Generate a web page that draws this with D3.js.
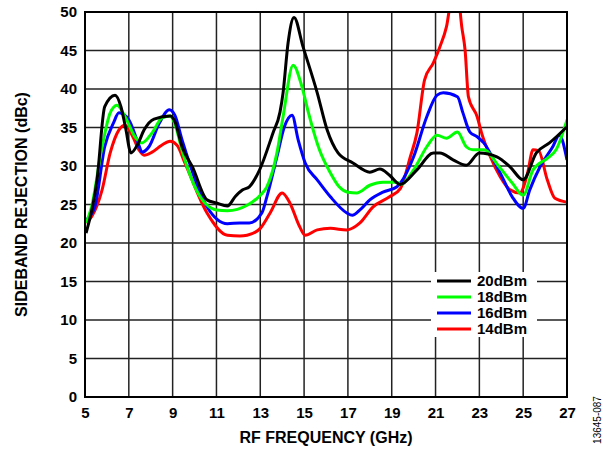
<!DOCTYPE html>
<html>
<head>
<meta charset="utf-8">
<script src="https://cdn.jsdelivr.net/npm/d3@7"></script>
<style>
  body { margin: 0; background: #fff; }
  text { font-family: "Liberation Sans", Arial, sans-serif; }
</style>
</head>
<body>
<div id="chart"></div>
<script>
// Sideband rejection vs RF frequency, one set per LO drive level
var freq20 = [5.05, 5.55, 5.9, 6.37, 6.64, 6.85, 7.1, 7.4, 7.7, 8.15, 8.9, 9.1, 9.43, 9.9, 10.57, 11.0, 11.5, 11.85, 12.2, 12.5, 12.97, 13.58, 13.9, 14.04, 14.27, 14.54, 14.95, 15.6, 16.05, 16.55, 17.23, 18.0, 18.46, 18.9, 19.38, 20.15, 20.9, 21.2, 21.8, 22.4, 23.0, 23.8, 24.4, 25.0, 25.6, 26.2, 27.0];
var rej20  = [21.3, 28.2, 37.7, 39.2, 37.7, 35.0, 31.7, 32.8, 34.7, 36.1, 36.5, 35.8, 32.5, 29.9, 25.6, 25.2, 24.8, 26.0, 26.9, 27.3, 29.5, 34.3, 37.0, 39.5, 46.0, 49.3, 45.5, 39.5, 34.7, 31.7, 30.4, 29.2, 29.6, 28.8, 27.6, 29.5, 31.7, 31.7, 30.8, 30.1, 31.7, 31.2, 29.9, 28.2, 31.7, 33.0, 35.1];

var freq18 = [5.05, 5.3, 5.78, 6.15, 6.46, 6.83, 7.28, 7.6, 8.06, 8.5, 8.88, 9.1, 9.43, 10.1, 11.0, 11.5, 12.4, 13.0, 13.3, 13.76, 14.04, 14.5, 14.9, 15.2, 15.7, 16.2, 16.6, 17.0, 17.4, 18.0, 18.6, 19.24, 19.4, 20.0, 20.6, 21.07, 21.5, 22.0, 22.4, 22.7, 23.2, 23.9, 24.5, 25.0, 25.45, 26.1, 26.5, 27.0];
var rej18  = [22.6, 24.7, 32.5, 36.9, 37.9, 36.4, 33.8, 33.0, 34.3, 36.2, 36.5, 35.5, 32.0, 26.8, 24.3, 24.2, 24.9, 26.2, 27.3, 31.7, 36.4, 43.1, 40.3, 36.9, 32.1, 29.1, 27.3, 26.6, 26.5, 27.5, 27.9, 27.9, 27.6, 29.5, 32.5, 34.0, 33.6, 34.4, 32.5, 32.1, 32.1, 29.9, 27.8, 26.2, 29.5, 31.0, 32.1, 36.0];

var freq16 = [5.05, 5.45, 5.9, 6.3, 6.55, 7.0, 7.46, 7.6, 7.92, 8.4, 8.85, 9.1, 9.43, 10.57, 11.5, 12.07, 12.5, 13.07, 13.3, 13.76, 14.1, 14.45, 14.73, 15.05, 15.6, 16.2, 16.95, 17.2, 17.55, 18.0, 18.6, 19.24, 19.4, 20.0, 20.6, 21.07, 21.35, 22.0, 22.25, 22.57, 22.9, 23.2, 23.95, 24.5, 25.0, 25.3, 25.77, 26.35, 26.65, 27.0];
var rej16  = [23.0, 24.7, 32.5, 35.6, 36.9, 36.0, 32.7, 31.8, 32.5, 35.6, 37.3, 36.6, 33.4, 24.7, 22.5, 22.6, 22.6, 23.9, 26.0, 31.2, 35.1, 36.6, 33.4, 30.4, 28.2, 26.0, 23.9, 23.6, 24.3, 25.6, 26.6, 27.3, 27.8, 31.2, 36.4, 39.2, 39.5, 39.0, 36.9, 34.4, 33.8, 33.0, 29.1, 26.0, 24.5, 26.9, 29.9, 32.5, 34.0, 30.8];

var freq14 = [5.05, 5.3, 5.78, 6.15, 6.55, 6.83, 7.15, 7.46, 7.7, 8.06, 8.5, 8.88, 9.2, 9.56, 10.57, 11.5, 12.07, 12.4, 13.0, 13.45, 14.0, 14.35, 14.8, 15.05, 15.6, 16.2, 16.95, 17.55, 18.15, 18.9, 19.4, 19.85, 20.15, 20.5, 20.9, 21.2, 21.5, 21.75, 22.0, 22.2, 22.35, 22.5, 22.9, 23.1, 23.5, 23.95, 24.4, 24.85, 25.2, 25.45, 25.7, 26.1, 26.45, 27.0];
var rej14  = [22.6, 23.4, 26.9, 31.7, 34.7, 35.3, 34.0, 32.1, 31.4, 31.8, 32.7, 33.2, 32.7, 30.4, 23.9, 21.0, 20.9, 21.0, 21.9, 23.9, 26.5, 25.2, 22.1, 21.0, 21.7, 21.9, 21.7, 22.6, 24.7, 26.0, 27.1, 31.2, 34.3, 41.2, 43.4, 45.5, 48.1, 52.0, 52.5, 48.0, 45.0, 39.0, 36.4, 34.3, 31.2, 28.6, 26.9, 26.5, 29.1, 32.1, 32.0, 28.2, 25.8, 25.3];

var seriesNames  = ["20dBm", "18dBm", "16dBm", "14dBm"];
var seriesColors = ["#000000", "#00ff00", "#0000ff", "#ff0000"];
var xTicks = [5, 7, 9, 11, 13, 15, 17, 19, 21, 23, 25, 27];
var yTicks = [0, 5, 10, 15, 20, 25, 30, 35, 40, 45, 50];

var series = [
    {name: seriesNames[0], color: seriesColors[0], f: freq20, v: rej20},
    {name: seriesNames[1], color: seriesColors[1], f: freq18, v: rej18},
    {name: seriesNames[2], color: seriesColors[2], f: freq16, v: rej16},
    {name: seriesNames[3], color: seriesColors[3], f: freq14, v: rej14}
];

var width = 608, height = 451;
var plotL = 85, plotR = 567, plotT = 12, plotB = 397;

var svg = d3.select("#chart").append("svg")
    .attr("width", width)
    .attr("height", height);

var x = d3.scaleLinear().domain([5, 27]).range([plotL, plotR]);
var y = d3.scaleLinear().domain([0, 50]).range([plotB, plotT]);

// grid
svg.append("g")
    .selectAll("line")
    .data(xTicks)
    .enter().append("line")
    .attr("x1", d => x(d)).attr("x2", d => x(d))
    .attr("y1", plotT).attr("y2", plotB)
    .attr("stroke", "#222").attr("stroke-width", 1.5);

svg.append("g")
    .selectAll("line")
    .data(yTicks)
    .enter().append("line")
    .attr("x1", plotL).attr("x2", plotR)
    .attr("y1", d => y(d)).attr("y2", d => y(d))
    .attr("stroke", "#222").attr("stroke-width", 1.5);

// tick labels
var xAxis = svg.append("g")
    .attr("transform", "translate(0," + plotB + ")")
    .call(d3.axisBottom(x).tickValues(xTicks).tickSize(0).tickPadding(10));
var yAxis = svg.append("g")
    .attr("transform", "translate(" + plotL + ",0)")
    .call(d3.axisLeft(y).tickValues(yTicks).tickSize(0).tickPadding(8));
[xAxis, yAxis].forEach(function(a) {
    a.select(".domain").remove();
    a.selectAll("text")
        .attr("fill", "#000")
        .style("font-family", "'Liberation Sans', Arial, sans-serif")
        .style("font-size", "15px")
        .style("font-weight", "bold");
});

// clip for data lines
svg.append("clipPath").attr("id", "plotclip")
    .append("rect")
    .attr("x", plotL).attr("y", plotT)
    .attr("width", plotR - plotL).attr("height", plotB - plotT);

var line = d3.line()
    .x(d => x(d[0]))
    .y(d => y(d[1]))
    .curve(d3.curveMonotoneX);

var lines = svg.append("g").attr("clip-path", "url(#plotclip)");
// draw the 14dBm trace first so 20dBm ends up on top
series.slice().reverse().forEach(function(s) {
    var pts = s.f.map((f, i) => [f, s.v[i]]);
    lines.append("path")
        .datum(pts)
        .attr("d", line)
        .attr("fill", "none")
        .attr("stroke", s.color)
        .attr("stroke-width", 3)
        .attr("stroke-linejoin", "round");
});

// legend
var leg = svg.append("g");
leg.append("rect")
    .attr("x", 431).attr("y", 272)
    .attr("width", 106).attr("height", 65)
    .attr("fill", "#fff");
series.forEach(function(s, i) {
    var ly = 281 + i * 16;
    leg.append("line")
        .attr("x1", 437).attr("x2", 471)
        .attr("y1", ly).attr("y2", ly)
        .attr("stroke", s.color).attr("stroke-width", 3);
    leg.append("text")
        .attr("x", 477).attr("y", ly + 5)
        .style("font-size", "15px").style("font-weight", "bold")
        .text(s.name);
});

// frame
svg.append("rect")
    .attr("x", plotL).attr("y", plotT)
    .attr("width", plotR - plotL).attr("height", plotB - plotT)
    .attr("fill", "none").attr("stroke", "#000").attr("stroke-width", 2);

// titles
svg.append("text")
    .attr("x", (plotL + plotR) / 2).attr("y", 443)
    .attr("text-anchor", "middle")
    .style("font-size", "16px").style("font-weight", "bold")
    .text("RF FREQUENCY (GHz)");

svg.append("text")
    .attr("transform", "translate(27," + (plotT + plotB) / 2 + ") rotate(-90)")
    .attr("text-anchor", "middle")
    .style("font-size", "16px").style("font-weight", "bold")
    .text("SIDEBAND REJECTION (dBc)");

svg.append("text")
    .attr("transform", "translate(601,420) rotate(-90)")
    .attr("text-anchor", "middle")
    .style("font-size", "10px")
    .text("13645-087");
</script>
</body>
</html>
